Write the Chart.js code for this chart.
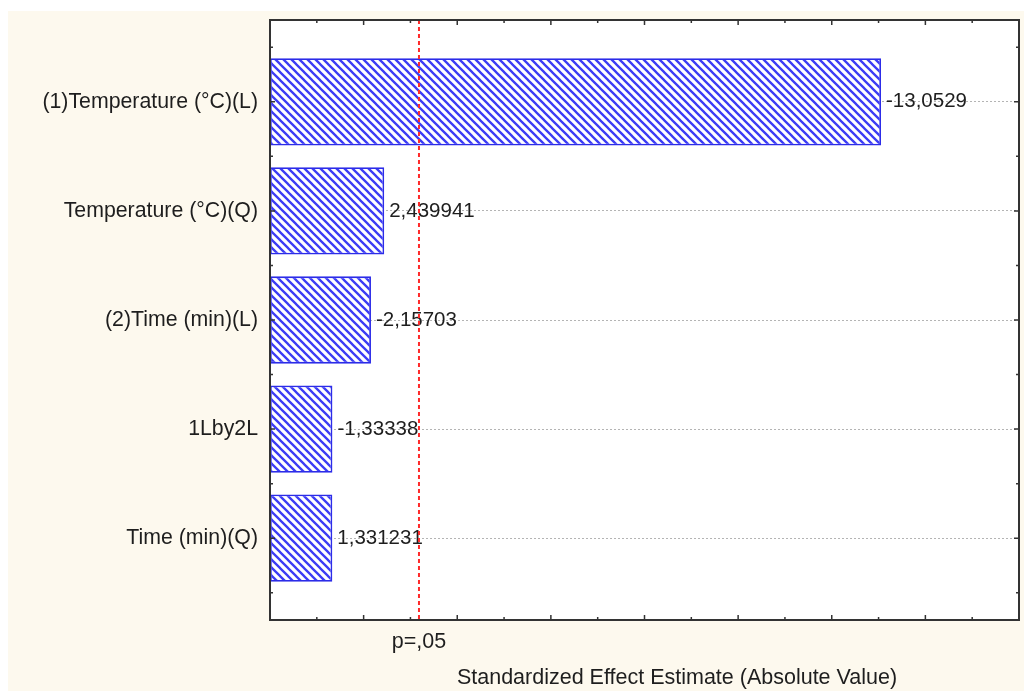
<!DOCTYPE html>
<html>
<head>
<meta charset="utf-8">
<script src="https://cdn.jsdelivr.net/npm/chart.js@4/dist/chart.umd.min.js"></script>
<style>
  html, body { margin: 0; padding: 0; background: #fff; }
  canvas { display: block; }
</style>
</head>
<body>
<canvas id="pareto" width="1024" height="691"></canvas>
<script>
// effect names, top to bottom
const effectNames = [
  "(1)Temperature (°C)(L)",
  "Temperature (°C)(Q)",
  "(2)Time (min)(L)",
  "1Lby2L",
  "Time (min)(Q)",
];
// standardized effects (signed, as printed next to the bars)
const effectValues = [-13.0529, 2.439941, -2.15703, -1.33338, 1.331231];
// critical t for p=.05
const pCrit = 3.182446;
const pLabel = "p=,05";
const xMax = 16;

const FONT = "Liberation Sans, Arial, sans-serif";

function makeHatch() {
  const c = document.createElement("canvas");
  c.width = 8;
  c.height = 8;
  const g = c.getContext("2d");
  g.fillStyle = "#ffffff";
  g.fillRect(0, 0, 8, 8);
  g.strokeStyle = "#3c3cf5";
  g.lineWidth = 2.3;
  g.beginPath();
  g.moveTo(0, 0); g.lineTo(8, 8);
  g.moveTo(-4, 4); g.lineTo(4, 12);
  g.moveTo(4, -4); g.lineTo(12, 4);
  g.stroke();
  return g.createPattern(c, "repeat");
}

const ctx = document.getElementById("pareto").getContext("2d");

const paperPlugin = {
  id: "paper",
  beforeDraw(chart) {
    const { ctx, chartArea: a } = chart;
    ctx.save();
    ctx.fillStyle = "#ffffff";
    ctx.fillRect(0, 0, chart.width, chart.height);
    ctx.fillStyle = "#fdf9ee";
    ctx.fillRect(8, 11, chart.width - 8, chart.height - 11);
    ctx.fillStyle = "#ffffff";
    ctx.fillRect(a.left, a.top, a.right - a.left, a.bottom - a.top);
    ctx.restore();
  },
  afterDatasetsDraw(chart) {
    const { ctx, chartArea: a } = chart;
    const meta = chart.getDatasetMeta(0);
    ctx.save();
    // value labels
    ctx.font = "20.5px " + FONT;
    ctx.fillStyle = "#1e1e1e";
    ctx.textAlign = "left";
    ctx.textBaseline = "middle";
    meta.data.forEach((bar, i) => {
      ctx.fillText(String(effectValues[i]).replace(".", ","), bar.x + 5, bar.y);
    });
    // p=.05 line
    const px = chart.scales.x.getPixelForValue(pCrit);
    ctx.strokeStyle = "#ff2a2a";
    ctx.lineWidth = 2;
    ctx.setLineDash([4, 3]);
    ctx.beginPath();
    ctx.moveTo(px, a.top);
    ctx.lineTo(px, a.bottom);
    ctx.stroke();
    ctx.restore();
  },
  afterDraw(chart) {
    const { ctx, chartArea: a, scales } = chart;
    ctx.save();
    ctx.strokeStyle = "#333";
    ctx.lineWidth = 2;
    ctx.strokeRect(a.left, a.top, a.right - a.left, a.bottom - a.top);
    ctx.lineWidth = 1.5;
    ctx.beginPath();
    for (let v = 1; v < xMax; v++) {
      const x = scales.x.getPixelForValue(v);
      const len = v % 2 === 0 ? 5 : 3;
      ctx.moveTo(x, a.bottom); ctx.lineTo(x, a.bottom - len);
      ctx.moveTo(x, a.top); ctx.lineTo(x, a.top + len);
    }
    for (let v = -0.5; v <= effectNames.length - 0.5; v += 0.5) {
      const y = scales.y.getPixelForValue(v);
      const len = Number.isInteger(v) ? 5 : 3;
      ctx.moveTo(a.left, y); ctx.lineTo(a.left + len, y);
      ctx.moveTo(a.right, y); ctx.lineTo(a.right - len, y);
    }
    ctx.stroke();
    // bottom texts
    ctx.fillStyle = "#1e1e1e";
    ctx.font = "21.5px " + FONT;
    ctx.textAlign = "center";
    ctx.textBaseline = "middle";
    ctx.fillText(pLabel, scales.x.getPixelForValue(pCrit), a.bottom + 22);
    ctx.fillText("Standardized Effect Estimate (Absolute Value)", 677, a.bottom + 58);
    ctx.restore();
  },
};

new Chart(ctx, {
  type: "bar",
  data: {
    datasets: [
      {
        data: effectValues.map((v, i) => ({ x: Math.abs(v), y: i })),
        backgroundColor: makeHatch(),
        borderColor: "#2c2ce8",
        borderWidth: 1.8,
        borderSkipped: false,
        barPercentage: 0.8,
        categoryPercentage: 1,
      },
    ],
  },
  options: {
    indexAxis: "y",
    responsive: false,
    animation: false,
    devicePixelRatio: 1,
    layout: { padding: { top: 20, right: 5, left: 0, bottom: 0 } },
    plugins: { legend: { display: false }, tooltip: { enabled: false } },
    scales: {
      x: {
        type: "linear",
        min: 0,
        max: xMax,
        ticks: { display: false, stepSize: 1 },
        grid: { display: false },
        border: { display: false },
        afterFit(scale) { scale.height = 71; },
      },
      y: {
        type: "linear",
        reverse: true,
        offset: false,
        min: -0.75,
        max: effectNames.length - 0.25,
        afterBuildTicks(scale) {
          scale.ticks = effectNames.map((n, i) => ({ value: i }));
        },
        ticks: {
          autoSkip: false,
          padding: 12,
          color: "#1e1e1e",
          font: { family: FONT, size: 21.3 },
          callback: (v) => effectNames[v],
        },
        grid: {
          offset: false,
          drawTicks: false,
          lineWidth: 1,
          color: "#b4b4b4",
        },
        border: { display: false, dash: [2, 2] },
        afterFit(scale) {
          scale.width = 270;
          scale.paddingTop = 0;
          scale.paddingBottom = 0;
        },
      },
    },
  },
  plugins: [paperPlugin],
});
</script>
</body>
</html>
